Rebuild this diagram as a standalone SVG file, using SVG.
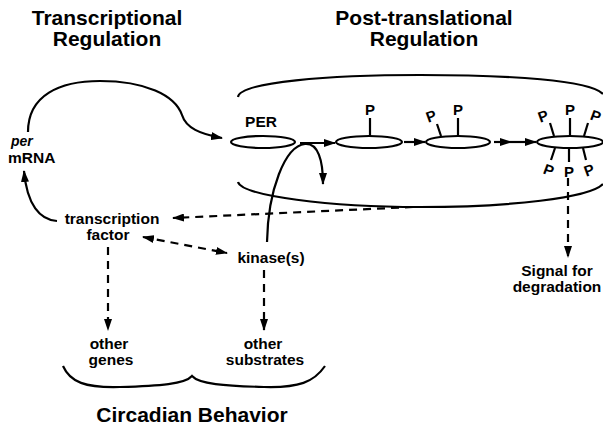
<svg xmlns="http://www.w3.org/2000/svg" width="603" height="428" viewBox="0 0 603 428">
<style>
text{font-family:"Liberation Sans",Arial,sans-serif;font-weight:bold;fill:#000}
.t{font-size:21px;text-anchor:middle}
.l{font-size:15.5px;text-anchor:middle}
.p{font-size:15px;text-anchor:middle}
.s{fill:none;stroke:#000;stroke-width:2.2}
.d{fill:none;stroke:#000;stroke-width:2.2;stroke-dasharray:8 6}
.e{fill:#fff;stroke:#000;stroke-width:2.2}
</style>
<defs>
<marker id="ah" viewBox="0 0 12 8" refX="11" refY="4" markerWidth="12" markerHeight="8" markerUnits="userSpaceOnUse" orient="auto-start-reverse">
<path d="M0,0 L12,4 L0,8 z" fill="#000"/>
</marker>
</defs>
<rect width="603" height="428" fill="#fff"/>
<g id="title-transcriptional">
<text class="t"><tspan x="107" y="25">Transcriptional</tspan><tspan x="107" y="46">Regulation</tspan></text>
</g>
<g id="title-posttranslational">
<text class="t"><tspan x="424" y="25">Post-translational</tspan><tspan x="424" y="46">Regulation</tspan></text>
</g>
<g id="compartment">
<path class="s" d="M238,97 C240,82 330,75 420,75 C510,75 590,80 603,94"/>
<path class="s" d="M238,182 C242,196 330,207 420,207 C510,207 590,198 603,184"/>
</g>
<g id="per-mrna">
<text style="font-size:15.5px"><tspan x="11" y="146" style="font-style:italic;font-size:14px">per</tspan><tspan x="8" y="163">mRNA</tspan></text>
</g>
<g id="per-protein">
<text class="l" x="261" y="127">PER</text>
<ellipse class="e" cx="263" cy="142" rx="32" ry="6"/>
</g>
<g id="per-p1">
<ellipse class="e" cx="369" cy="142" rx="33" ry="6"/>
<line class="s" x1="370" y1="118" x2="370" y2="136"/>
<text class="p" x="370" y="115">P</text>
</g>
<g id="per-p2">
<ellipse class="e" cx="458" cy="142" rx="32" ry="6"/>
<line class="s" x1="437" y1="124" x2="441" y2="136"/>
<text class="p" transform="translate(433,121) rotate(-20)">P</text>
<line class="s" x1="458" y1="118" x2="458" y2="136"/>
<text class="p" x="458" y="115">P</text>
</g>
<g id="per-pn">
<ellipse class="e" cx="570" cy="142" rx="33" ry="6"/>
<line class="s" x1="550" y1="123" x2="554" y2="136"/>
<text class="p" transform="translate(545,121) rotate(-20)">P</text>
<line class="s" x1="570" y1="118" x2="570" y2="136"/>
<text class="p" x="570" y="115">P</text>
<line class="s" x1="588" y1="123" x2="584" y2="136"/>
<text class="p" transform="translate(594,121) rotate(20)">P</text>
<line class="s" x1="555" y1="148" x2="551" y2="160"/>
<text class="p" transform="translate(547,175) rotate(20)">P</text>
<line class="s" x1="569" y1="148" x2="569" y2="162"/>
<text class="p" x="569" y="177">P</text>
<line class="s" x1="583" y1="148" x2="586" y2="160"/>
<text class="p" transform="translate(591,175) rotate(-20)">P</text>
</g>
<g id="transcription-factor">
<text class="l"><tspan x="112" y="224">transcription</tspan><tspan x="108" y="240">factor</tspan></text>
</g>
<g id="kinases">
<text class="l" x="271" y="263">kinase(s)</text>
</g>
<g id="signal-degradation">
<text class="l"><tspan x="557" y="276">Signal for</tspan><tspan x="557" y="292">degradation</tspan></text>
</g>
<g id="other-genes">
<text class="l"><tspan x="109" y="349">other</tspan><tspan x="111" y="365">genes</tspan></text>
</g>
<g id="other-substrates">
<text class="l"><tspan x="263" y="349">other</tspan><tspan x="265" y="365">substrates</tspan></text>
</g>
<g id="circadian-behavior">
<path class="s" d="M63,366 C70,382 85,388 120,387 C160,386 185,384 192,376 C199,384 224,386 264,387 C299,388 314,382 325,366"/>
<text class="t" x="192" y="422">Circadian Behavior</text>
</g>
<g id="connectors">
<path class="s" d="M28,132 C28,95 60,81 100,81 C145,81 175,95 182,115 C186,128 200,134 222,138" marker-end="url(#ah)"/>
<path class="s" d="M57,221 C40,220 27,205 24,171" marker-end="url(#ah)"/>
<line class="s" x1="300" y1="143" x2="335" y2="143" marker-end="url(#ah)"/>
<line class="s" x1="404" y1="142" x2="425" y2="142" marker-end="url(#ah)"/>
<line class="s" x1="494" y1="142" x2="511" y2="142" marker-end="url(#ah)"/>
<line class="s" x1="511" y1="142" x2="536" y2="142" marker-end="url(#ah)"/>
<path class="s" d="M267,242 C268,190 285,146 305,144 C318,143 323,160 323,184" marker-end="url(#ah)"/>
<path class="d" d="M413,207 L173,218" marker-end="url(#ah)"/>
<path class="d" d="M143,237 L227,253" marker-start="url(#ah)" marker-end="url(#ah)"/>
<line class="d" x1="108" y1="247" x2="108" y2="330" marker-end="url(#ah)"/>
<line class="d" x1="264" y1="270" x2="264" y2="330" marker-end="url(#ah)"/>
<line class="d" x1="568" y1="178" x2="568" y2="257" marker-end="url(#ah)"/>
</g>
</svg>
